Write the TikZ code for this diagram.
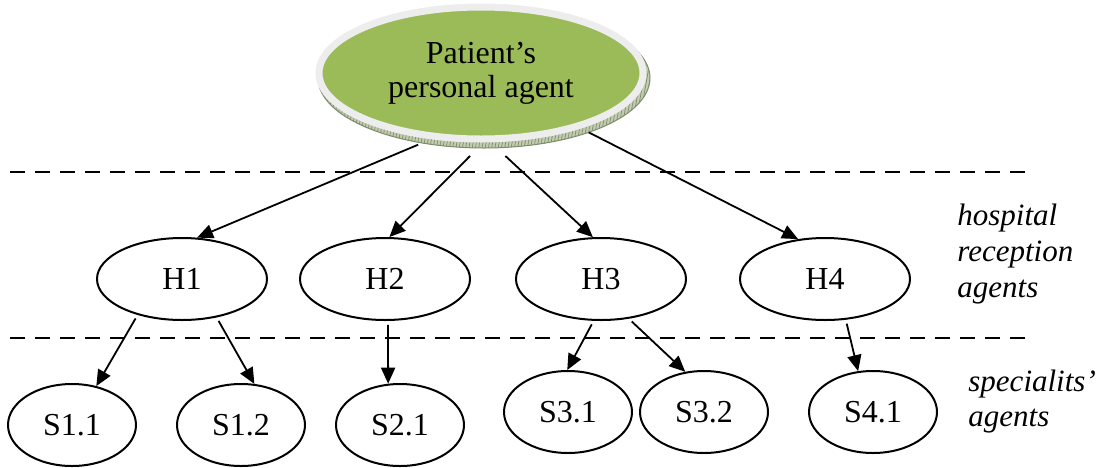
\documentclass[tikz,border=0pt]{standalone}
\usepackage{fontspec}
\setmainfont{Liberation Serif}
\usetikzlibrary{arrows.meta,shapes.geometric,patterns.meta}
\definecolor{agentgreen}{HTML}{9BBB59}
\definecolor{rimgray}{HTML}{EDEDED}
\definecolor{bevelfill}{HTML}{C2CCB0}
\definecolor{beveledge}{HTML}{7E8C6B}
\begin{document}
\begin{tikzpicture}[x=0.5pt,y=-0.5pt,
  font=\fontsize{16}{17}\selectfont,
  hosp/.style={ellipse, draw, line width=1pt, minimum width=85pt, minimum height=41pt, inner sep=0pt},
  spec/.style={ellipse, draw, line width=1pt, minimum width=64pt, minimum height=41pt, inner sep=0pt},
  link/.style={line width=0.9pt, -{Triangle[length=8pt,width=7pt]}},
  layer/.style={dash pattern=on 7.5pt off 5pt, line width=1pt},
  lbl/.style={align=left, inner sep=0pt, anchor=west}]

\useasboundingbox (0,0) rectangle (1102,467);

% raised edge under the personal agent
\fill[bevelfill] (484,78) ellipse [x radius=83pt, y radius=35pt];
\fill[pattern={Lines[angle=80,distance=1.6pt,line width=0.35pt]}, pattern color=beveledge]
  (484,78) ellipse [x radius=83pt, y radius=35pt];
\draw[beveledge, line width=0.5pt] (484,78) ellipse [x radius=83pt, y radius=35pt];

% personal agent
\node[ellipse, fill=agentgreen, draw=rimgray, line width=3.5pt,
      minimum width=162pt, minimum height=66pt, inner sep=0pt, align=center]
  (P) at (481,73) {Patient’s\\personal agent};

% layer separators
\coordinate (d1l) at (10,172);  \coordinate (d1r) at (1030,172);
\coordinate (d2l) at (10,338);  \coordinate (d2r) at (1030,338);
\draw[layer] (d1l) -- (d1r);
\draw[layer] (d2l) -- (d2r);

% hospital reception agents
\node[hosp] (H1) at (182,279) {H1};
\node[hosp] (H2) at (385,279) {H2};
\node[hosp] (H3) at (601,279) {H3};
\node[hosp] (H4) at (825,279) {H4};

% specialists' agents
\node[spec] (S11) at (72,425)  {S1.1};
\node[spec] (S12) at (241,425) {S1.2};
\node[spec] (S21) at (400,425) {S2.1};
\node[spec] (S31) at (568,412) {S3.1};
\node[spec] (S32) at (704,412) {S3.2};
\node[spec] (S41) at (873,412) {S4.1};

% level labels
\node[lbl, font=\fontsize{15.5}{18}\selectfont\itshape] (hlabel) at (957,254)
  {hospital\\reception\\agents};
\node[lbl, font=\fontsize{15.5}{17.5}\selectfont\itshape] (slabel) at (968,402)
  {specialits’\\agents};

% personal agent to reception agents
\draw[link, shorten <=7pt]   (P.233.8) -- (H1.70);
\draw[link, shorten <=9.5pt] (P.272)   -- (H2.84.4);
\draw[link, shorten <=10pt]  (P.278.6) -- (H3.101);
\draw[link, shorten <=4.4pt] (P.331.5) -- (H4.124.3);

% reception agents to specialists
\draw[link, shorten <=2pt] (H1.219.3) -- (S11.58.8);
\draw[link, shorten <=2pt] (H1.312)   -- (S12.72);
\draw[link, shorten <=2pt] (H2.274)   -- (S21.106);
\draw[link, shorten <=2pt] (H3.260)   -- (S31.91);
\draw[link, shorten <=2pt] (H3.305)   -- (S32.115);
\draw[link, shorten <=2pt] (H4.297)   -- (S41.110);
\end{tikzpicture}
\end{document}
